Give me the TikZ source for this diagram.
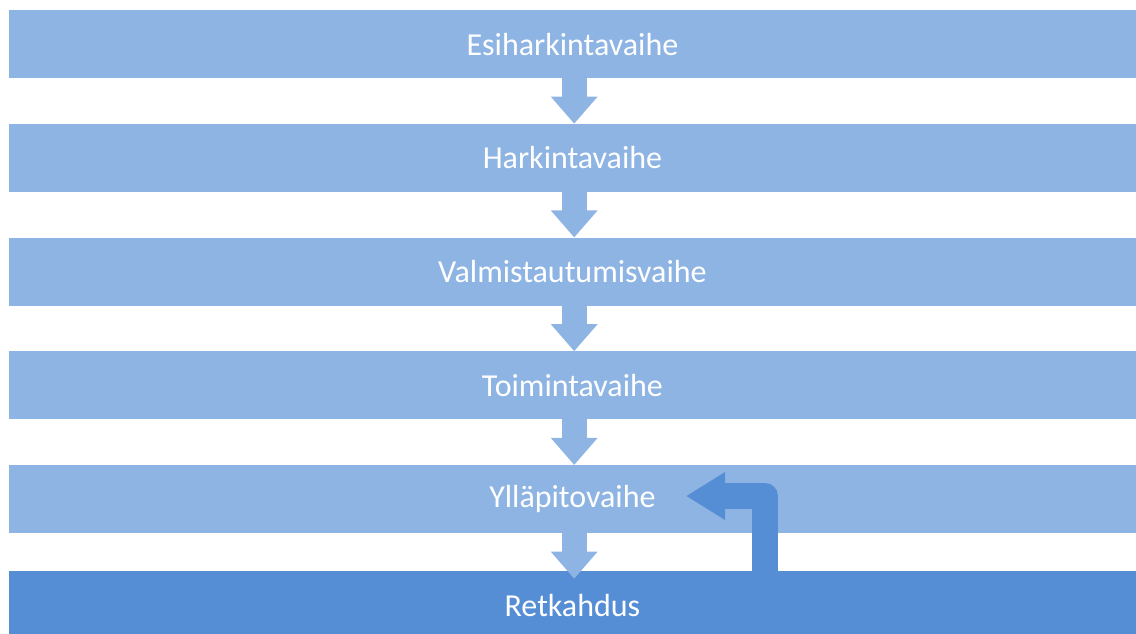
\documentclass[tikz,border=0pt]{standalone}
\usepackage{fontspec}
\setmainfont{Carlito}
\usetikzlibrary{matrix,arrows.meta}
\definecolor{phaselight}{HTML}{8EB4E3}
\definecolor{phasedark}{HTML}{558ED5}
\tikzset{
phase/.style   = {shape=rectangle, fill=phaselight, draw=none,
                  minimum width=1127.5pt, minimum height=68pt,
                  inner sep=0pt, outer sep=0pt, anchor=center,
                  text=white, font=\fontsize{32pt}{36pt}\selectfont},
relapse/.style = {phase, fill=phasedark},
flow/.style    = {draw=phaselight, line width=25pt,
                  -{Triangle[width=45pt,length=27pt]}},
back/.style    = {draw=phasedark, line width=26pt, line join=round,
                  -{Triangle[width=45pt,length=39pt]}}
}

\begin{document}
\begin{tikzpicture}[x=1pt,y=-1pt]
\useasboundingbox (0,0) rectangle (1136,633);
\clip (0,0) rectangle (1136,633);
\matrix (phases) at (8.5,10)
[
matrix of nodes,
anchor          = north west,
inner sep       = 0pt,
row sep         = 45.75pt,
column 1/.style = {nodes={phase}},
row 6/.style    = {nodes={relapse}}
]
{
    Esiharkintavaihe \\
    Harkintavaihe \\
    Valmistautumisvaihe \\
    Toimintavaihe \\
    Ylläpitovaihe \\[-7.75pt]
    Retkahdus \\
};

\foreach \x in {1,...,5} {
    \draw[flow] ([xshift=1.75pt]phases-\x-1.south) -- ++(0,45.5);
}

\coordinate (loop start) at (765,576);
\coordinate (loop end)   at (686,496);
\draw[back] (loop start) |- (loop end);
\end{tikzpicture}
\end{document}
